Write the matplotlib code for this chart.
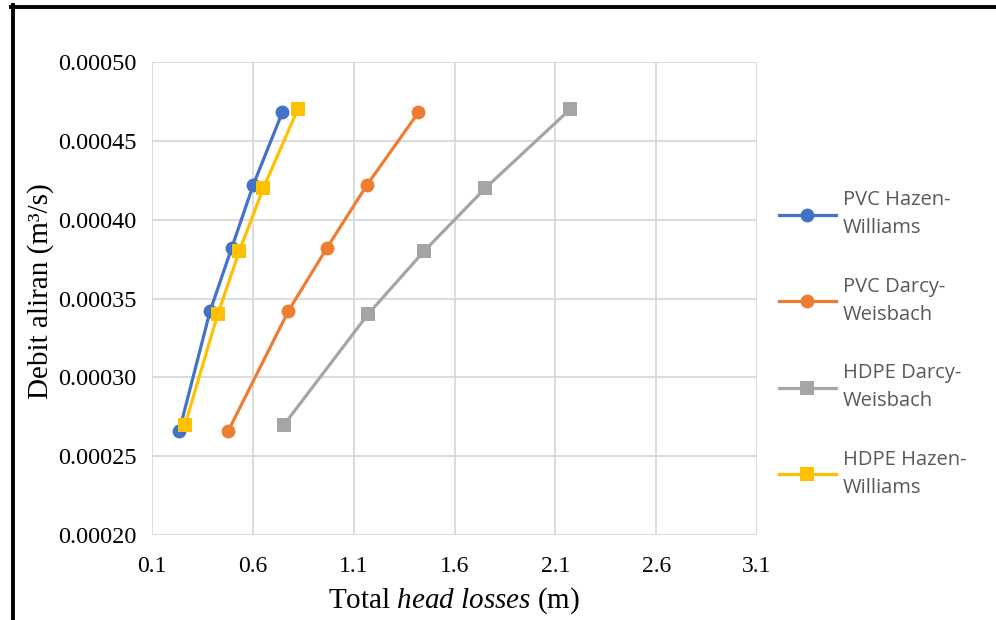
import matplotlib
matplotlib.use("Agg")
import matplotlib.pyplot as plt
from matplotlib.lines import Line2D

plt.rcParams['mathtext.fontset'] = 'custom'
plt.rcParams['mathtext.rm'] = 'Liberation Serif'
plt.rcParams['mathtext.it'] = 'Liberation Serif:italic'

# Data
flow_pvc = [0.000266, 0.000342, 0.000382, 0.000422, 0.000468]
flow_hdpe = [0.00027, 0.00034, 0.00038, 0.00042, 0.00047]
pvc_hw = [0.235, 0.388, 0.495, 0.602, 0.746]
pvc_dw = [0.478, 0.776, 0.967, 1.166, 1.421]
hdpe_dw = [0.755, 1.171, 1.449, 1.753, 2.173]
hdpe_hw = [0.264, 0.426, 0.533, 0.652, 0.823]

labels = ["PVC Hazen-\nWilliams", "PVC Darcy-\nWeisbach", "HDPE Darcy-\nWeisbach", "HDPE Hazen-\nWilliams"]
colors = ["#4472C4", "#ED7D31", "#A5A5A5", "#FFC000"]
markers = ["o", "o", "s", "s"]
xticks = [0.1, 0.6, 1.1, 1.6, 2.1, 2.6, 3.1]
yticks = [0.00020, 0.00025, 0.00030, 0.00035, 0.00040, 0.00045, 0.00050]

fig = plt.figure(figsize=(9.96, 6.2), dpi=100)
ax = fig.add_axes([152/996, 1-535/620, (757-152)/996, (535-62)/620])

series = [(pvc_hw, flow_pvc), (pvc_dw, flow_pvc), (hdpe_dw, flow_hdpe), (hdpe_hw, flow_hdpe)]
handles = []
for (xs, ys), lab, c, m in zip(series, labels, colors, markers):
    h, = ax.plot(xs, ys, color=c, lw=2.3, marker=m, markersize=10 if m == "o" else 9.5,
                 markeredgewidth=0, label=lab, zorder=3)
    handles.append(h)

ax.set_xlim(0.1, 3.1)
ax.set_ylim(0.00020, 0.00050)
ax.set_xticks(xticks)
ax.set_yticks(yticks)
ax.set_xticklabels([f"{v:.1f}" for v in xticks], fontfamily="Liberation Serif", fontsize=17)
ax.set_yticklabels([f"{v:.5f}" for v in yticks], fontfamily="Liberation Serif", fontsize=17.5)
ax.tick_params(axis='both', length=0, colors='black')
ax.tick_params(axis='x', pad=15)
ax.tick_params(axis='y', pad=11)
ax.grid(True, color="#D9D9D9", lw=1.3)
for s in ax.spines.values():
    s.set_visible(False)
ax.set_axisbelow(True)

ax.set_xlabel(r"Total $\mathit{head\ losses}$ (m)", fontfamily="Liberation Serif", fontsize=21, labelpad=6)
ax.set_ylabel("Debit aliran (m³/s)", fontfamily="Liberation Serif", fontsize=21, labelpad=3)
ax.yaxis.label.set_y(0.515)

leg = fig.legend(handles=handles, loc="upper left", bbox_to_anchor=(761/996, 1-172/620),
                 frameon=False, prop={"family": "Open Sans", "size": 14.5},
                 handlelength=2.8, handletextpad=0.35, labelspacing=1.9)
for t in leg.get_texts():
    t.set_color("#595959")
    t.set_linespacing(1.55)

# Black frame (left & top)
fig.add_artist(Line2D([12.5/996, 12.5/996], [0, 1-5/620], color="black", lw=2.8, transform=fig.transFigure))
fig.add_artist(Line2D([11/996, 1], [1-6.5/620, 1-6.5/620], color="black", lw=2.8, transform=fig.transFigure))

fig.savefig("out.png", dpi=100)
